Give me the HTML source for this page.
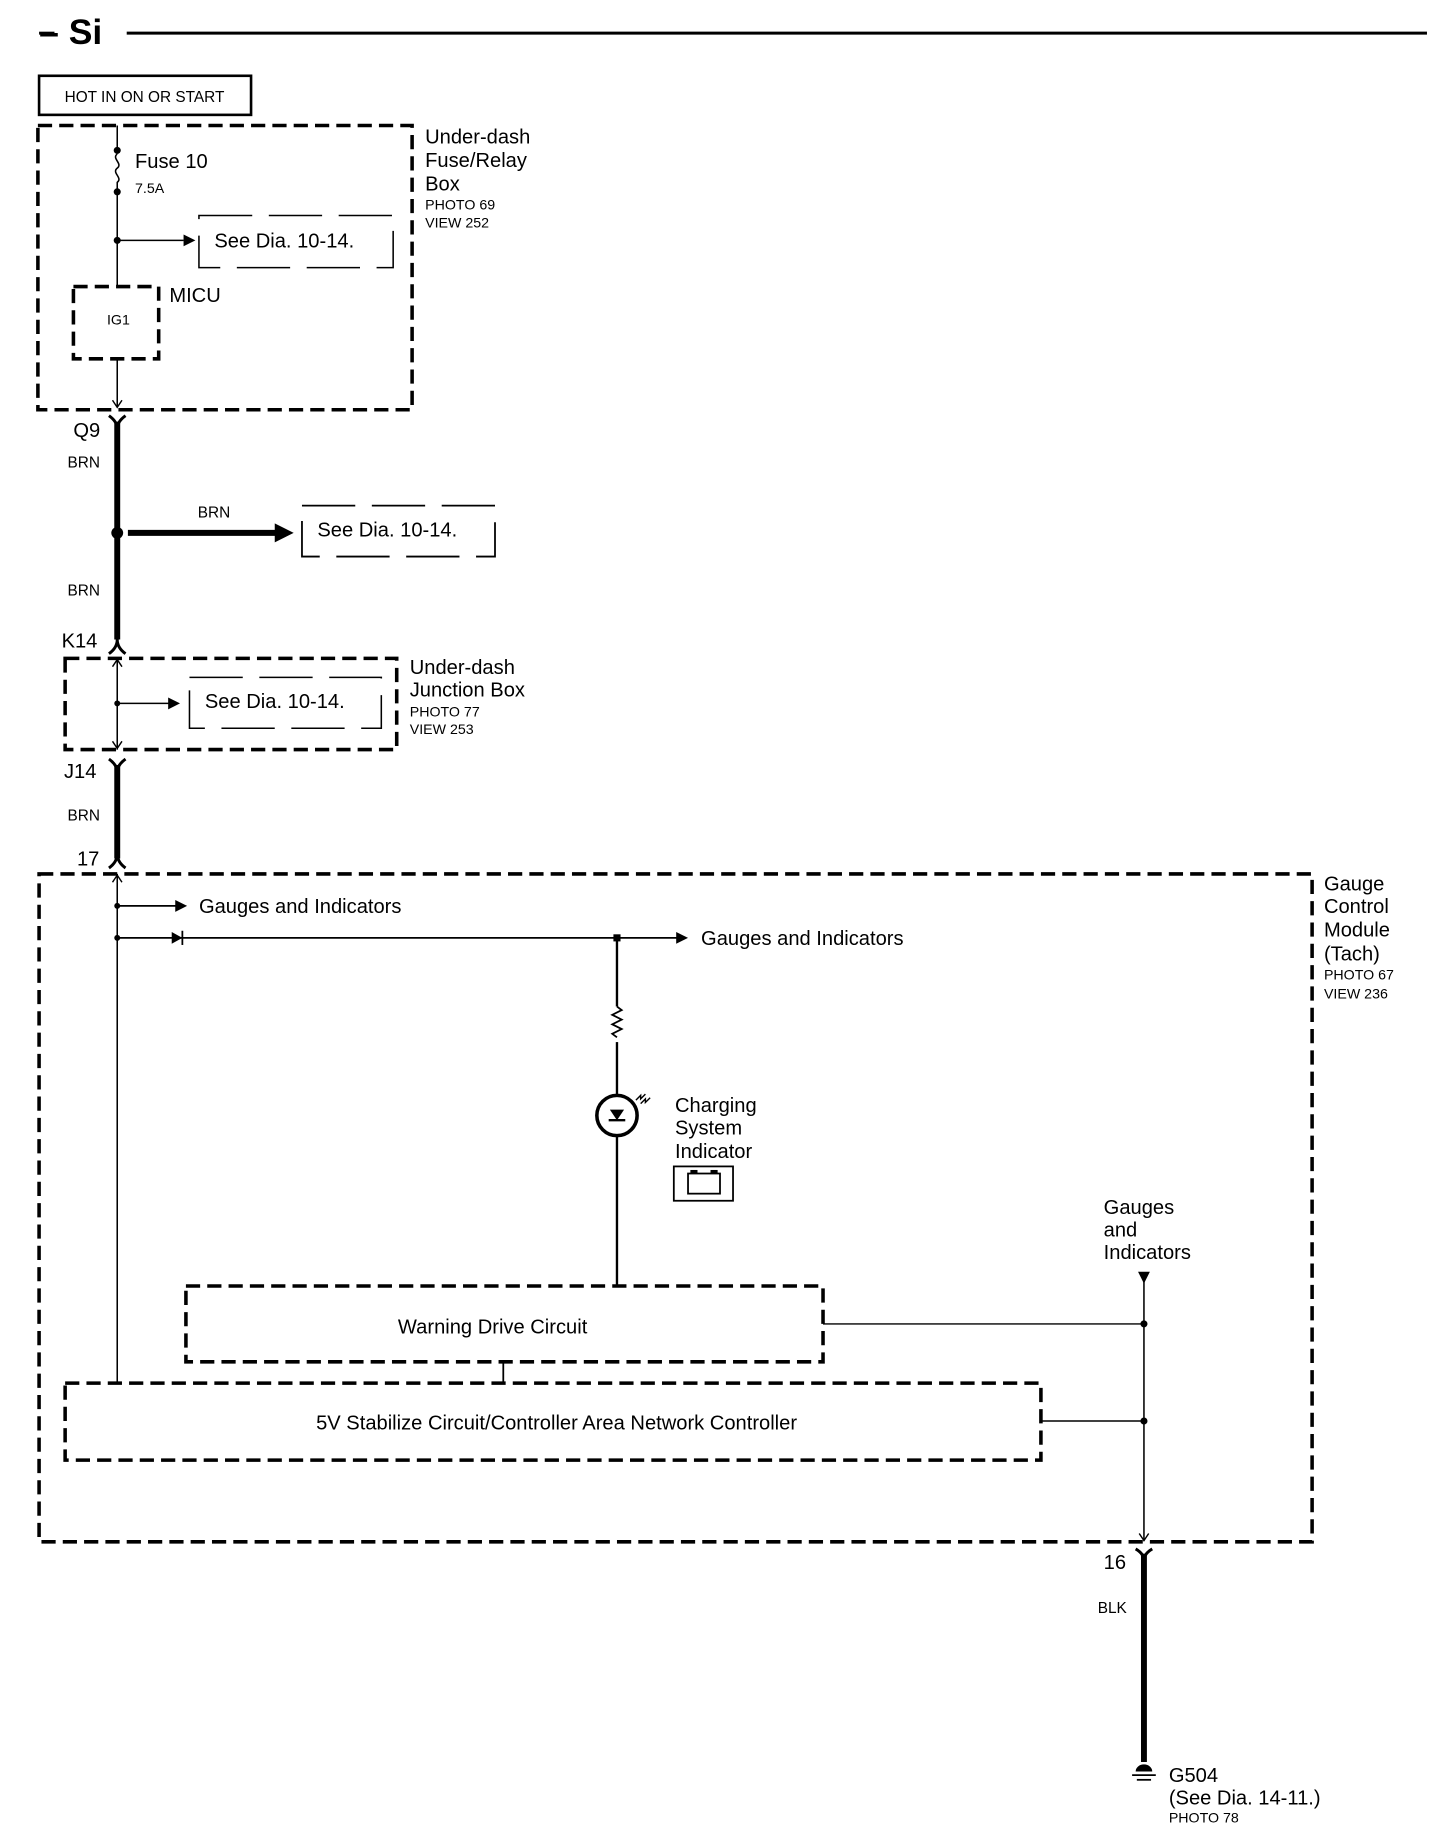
<!DOCTYPE html>
<html><head><meta charset="utf-8"><style>
html,body{margin:0;padding:0;background:#fff}
svg{display:block}
text{font-family:"Liberation Sans",sans-serif;fill:#000}
</style></head><body>
<svg width="1440" height="1844" viewBox="0 0 1216 1557.2" preserveAspectRatio="none" xmlns="http://www.w3.org/2000/svg">
<g fill="none" stroke="#000">
<!-- title line -->
<line x1="33" y1="28" x2="46" y2="28" stroke-width="2.5"/>
<line x1="107" y1="28" x2="1205" y2="28" stroke-width="2.5"/>
<!-- HOT box -->
<rect x="33" y="64" width="179" height="33" stroke-width="2.2"/>
<!-- big dashed boxes -->
<g stroke-width="3" stroke-dasharray="12,6">
<rect x="32" y="106" width="316" height="240"/>
<rect x="62" y="242" width="72" height="61"/>
<rect x="55" y="556" width="280" height="77"/>
<rect x="33" y="738" width="1075" height="564"/>
<rect x="157" y="1086" width="538" height="64"/>
<rect x="55" y="1168" width="824" height="65"/>
</g>
<!-- thin dashed see boxes -->
<g stroke-width="1.3" stroke-dasharray="45,14">
<rect x="168" y="182" width="164" height="44"/>
<rect x="160" y="572" width="162" height="43"/>
</g>
<rect x="255" y="427" width="163" height="43" stroke-width="1.5" stroke-dasharray="45,14"/>
<!-- thin wire top -->
<line x1="99" y1="106" x2="99" y2="127" stroke-width="1.3"/>
<path d="M99,130 c-5,4 5,8 0,12 c-5,4 5,8 0,12 l0,6" stroke-width="1.3"/>
<line x1="99" y1="162" x2="99" y2="242" stroke-width="1.3"/>
<line x1="99" y1="203" x2="155" y2="203" stroke-width="1.3"/>
<line x1="99" y1="303" x2="99" y2="344" stroke-width="1.3"/>
<path d="M95,338 L99,344 L103,338" stroke-width="1.2"/>
<!-- Q9 connector -->
<path d="M92,351 Q99,356 99,362 Q99,356 106,351" stroke-width="2.5"/>
<line x1="99" y1="356" x2="99" y2="540" stroke-width="5"/>
<line x1="108" y1="450" x2="235" y2="450" stroke-width="5"/>
<!-- K14 -->
<path d="M92,552 Q99,547 99,540 Q99,547 106,552" stroke-width="2.5"/>
<line x1="99" y1="556" x2="99" y2="633" stroke-width="1.3"/>
<path d="M95,563 L99,557 L103,563 M95,626 L99,632 L103,626" stroke-width="1.2"/>
<line x1="99" y1="594" x2="143" y2="594" stroke-width="1.3"/>
<!-- J14 -->
<path d="M92,641 Q99,646 99,652 Q99,646 106,641" stroke-width="2.5"/>
<line x1="99" y1="646" x2="99" y2="725" stroke-width="5"/>
<path d="M92,733 Q99,728 99,721 Q99,728 106,733" stroke-width="2.5"/>
<!-- GCM internals -->
<line x1="99" y1="738" x2="99" y2="1168" stroke-width="1.3"/>
<path d="M95,745 L99,739 L103,745" stroke-width="1.2"/>
<line x1="99" y1="765" x2="150" y2="765" stroke-width="1.5"/>
<line x1="99" y1="792" x2="572" y2="792" stroke-width="1.5"/>
<line x1="154" y1="786" x2="154" y2="798" stroke-width="1.5"/>
<line x1="521" y1="792" x2="521" y2="850" stroke-width="2"/>
<path d="M521,850 l4,3 l-8,4 l8,4 l-8,4 l8,4 l-8,4 l4,3" stroke-width="1.5"/>
<line x1="521" y1="880" x2="521" y2="925" stroke-width="2"/>
<circle cx="521" cy="942" r="17" stroke-width="3"/>
<line x1="521" y1="959" x2="521" y2="1086" stroke-width="2"/>
<line x1="514" y1="946" x2="528" y2="946" stroke-width="2"/>
<path d="M537,929 l4,-4 l0,3 l4,-4 M541,932 l4,-4 l0,3 l4,-4" stroke-width="1.2"/>
<rect x="569" y="985" width="50" height="29" stroke-width="1.5"/>
<rect x="581" y="991" width="27" height="17" stroke-width="1.5"/>
<line x1="425" y1="1150" x2="425" y2="1168" stroke-width="1.5"/>
<line x1="695" y1="1118" x2="966" y2="1118" stroke-width="1.2"/>
<line x1="879" y1="1200" x2="966" y2="1200" stroke-width="1.2"/>
<line x1="966" y1="1080" x2="966" y2="1301" stroke-width="1.3"/>
<path d="M962,1295 L966,1301 L970,1295" stroke-width="1.2"/>
<path d="M959,1308 Q966,1312 966,1318 Q966,1312 973,1308" stroke-width="2.5"/>
<line x1="966" y1="1312" x2="966" y2="1488" stroke-width="5"/>
<line x1="956" y1="1499" x2="976" y2="1499" stroke-width="1.5"/>
<line x1="960" y1="1503" x2="972" y2="1503" stroke-width="1.5"/>
</g>
<g fill="#000">
<circle cx="99" cy="127" r="3"/><circle cx="99" cy="162" r="3"/><circle cx="99" cy="203" r="3"/>
<polygon points="155,198 165,203 155,208"/>
<circle cx="99" cy="450" r="5"/>
<polygon points="232,442 248,450 232,458"/>
<circle cx="99" cy="594" r="2.5"/><polygon points="142,589 152,594 142,599"/>
<circle cx="99" cy="765" r="2.5"/><polygon points="148,760 158,765 148,770"/>
<circle cx="99" cy="792" r="2.5"/><polygon points="145,787 154,792 145,797"/>
<rect x="518" y="789" width="6" height="6"/><polygon points="571,787 581,792 571,797"/>
<polygon points="515,937 527,937 521,946"/>
<rect x="583" y="988" width="6" height="3"/><rect x="600" y="988" width="6" height="3"/>
<polygon points="961,1074 971,1074 966,1084"/>
<circle cx="966" cy="1118" r="3"/><circle cx="966" cy="1200" r="3"/>
<path d="M959,1496 a7,6 0 0 1 14,0 z"/>
</g>
<text x="33" y="37" font-size="30" font-weight="bold">– Si</text>
<text x="122" y="86" font-size="13" text-anchor="middle">HOT IN ON OR START</text>
<text x="114" y="142" font-size="17">Fuse 10</text>
<text x="114" y="163" font-size="12">7.5A</text>
<text x="181" y="209" font-size="17">See Dia. 10-14.</text>
<text x="100" y="274" font-size="12" text-anchor="middle">IG1</text>
<text x="143" y="255" font-size="17">MICU</text>
<g font-size="17"><text x="359" y="121">Under-dash</text><text x="359" y="141">Fuse/Relay</text><text x="359" y="161">Box</text></g>
<g font-size="12"><text x="359" y="177">PHOTO 69</text><text x="359" y="192">VIEW 252</text></g>
<text x="62" y="369" font-size="17">Q9</text>
<text x="57" y="395" font-size="13">BRN</text>
<text x="167" y="437" font-size="13">BRN</text>
<text x="268" y="453" font-size="17">See Dia. 10-14.</text>
<text x="57" y="503" font-size="13">BRN</text>
<text x="52" y="547" font-size="17">K14</text>
<text x="173" y="598" font-size="17">See Dia. 10-14.</text>
<g font-size="17"><text x="346" y="569">Under-dash</text><text x="346" y="588">Junction Box</text></g>
<g font-size="12"><text x="346" y="605">PHOTO 77</text><text x="346" y="620">VIEW 253</text></g>
<text x="54" y="657" font-size="17">J14</text>
<text x="57" y="693" font-size="13">BRN</text>
<text x="65" y="731" font-size="17">17</text>
<text x="168" y="771" font-size="17">Gauges and Indicators</text>
<text x="592" y="798" font-size="17">Gauges and Indicators</text>
<g font-size="17"><text x="570" y="939">Charging</text><text x="570" y="958">System</text><text x="570" y="978">Indicator</text></g>
<text x="416" y="1126" font-size="17" text-anchor="middle">Warning Drive Circuit</text>
<text x="470" y="1207" font-size="17" text-anchor="middle">5V Stabilize Circuit/Controller Area Network Controller</text>
<g font-size="17"><text x="932" y="1025">Gauges</text><text x="932" y="1044">and</text><text x="932" y="1063">Indicators</text></g>
<g font-size="17"><text x="1118" y="752">Gauge</text><text x="1118" y="771">Control</text><text x="1118" y="791">Module</text><text x="1118" y="811">(Tach)</text></g>
<g font-size="12"><text x="1118" y="827">PHOTO 67</text><text x="1118" y="843">VIEW 236</text></g>
<text x="932" y="1325" font-size="17">16</text>
<text x="927" y="1362" font-size="13">BLK</text>
<text x="987" y="1505" font-size="17">G504</text>
<text x="987" y="1524" font-size="17">(See Dia. 14-11.)</text>
<text x="987" y="1539" font-size="12">PHOTO 78</text>
</svg>
</body></html>
